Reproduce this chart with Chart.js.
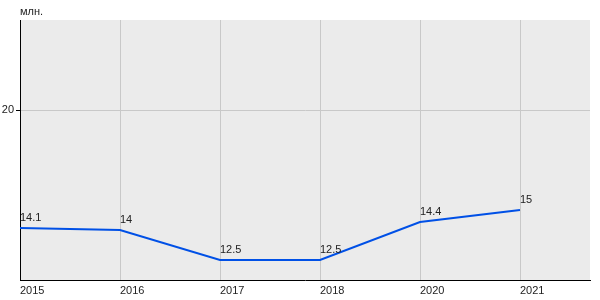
<!DOCTYPE html>
<html><head><meta charset="utf-8">
<script src="https://cdn.jsdelivr.net/npm/chart.js@4"></script>
<style>html,body{margin:0;padding:0;background:#fff}#w{width:600px;height:300px}</style>
</head><body><div id="w"><canvas id="c" width="600" height="300"></canvas></div>
<script>
const categories = ["2015","2016","2017","2018","2020","2021"];
const values = [14.1, 14, 12.5, 12.5, 14.4, 15];
const yTicks = [20];
const unitLabel = "млн.";

const pts = values.map((v,i)=>({x:i,y:v}));
const FONT = "Arial, 'Liberation Sans', sans-serif";

const bgPlugin = {
  id:'bg',
  beforeDraw(chart){
    const {ctx, chartArea:a} = chart;
    ctx.save();
    ctx.fillStyle = '#ebebeb';
    ctx.fillRect(a.left, a.top, a.right-a.left, a.bottom-a.top);
    ctx.fillStyle = '#222';
    ctx.font = "11px " + FONT;
    ctx.textBaseline = 'middle';
    ctx.textAlign = 'left';
    ctx.fillText(unitLabel, a.left, 12);
    ctx.restore();
  },
  afterDatasetsDraw(chart){
    const {ctx} = chart;
    const meta = chart.getDatasetMeta(0);
    ctx.save();
    ctx.fillStyle = '#222';
    ctx.font = "11px " + FONT;
    ctx.textAlign = 'left';
    ctx.textBaseline = 'middle';
    meta.data.forEach((p,i)=>{
      ctx.fillText(String(values[i]), p.x, p.y - 10);
    });
    ctx.restore();
  }
};

new Chart(document.getElementById('c'), {
  type:'line',
  data:{datasets:[{data:pts, borderColor:'#0050e6', borderWidth:2, pointRadius:0, tension:0, fill:false}]},
  options:{
    responsive:false, animation:false,
    layout:{padding:{top:20,right:10,left:0,bottom:0}},
    plugins:{legend:{display:false}, tooltip:{enabled:false}},
    scales:{
      x:{type:'linear', min:0, max:5.7,
        afterBuildTicks(s){ s.ticks = categories.map((c,i)=>({value:i})); },
        afterFit(s){ s.height = 20; },
        grid:{color:'#c8c8c8', drawTicks:false},
        border:{color:'#000', width:1},
        ticks:{align:'start', padding:4, color:'#222', font:{size:11, family:FONT}, maxRotation:0, autoSkip:false,
          callback:(v)=>categories[v] ?? ''}
      },
      y:{min:11.5, max:24.5,
        afterBuildTicks(s){ s.ticks = yTicks.map(v=>({value:v})); },
        afterFit(s){ s.width = 20; },
        grid:{color:'#c8c8c8', tickLength:4, tickColor:'#000'},
        border:{color:'#000', width:1},
        ticks:{padding:2, color:'#222', font:{size:11, family:FONT}}
      }
    }
  },
  plugins:[bgPlugin]
});
</script></body></html>
